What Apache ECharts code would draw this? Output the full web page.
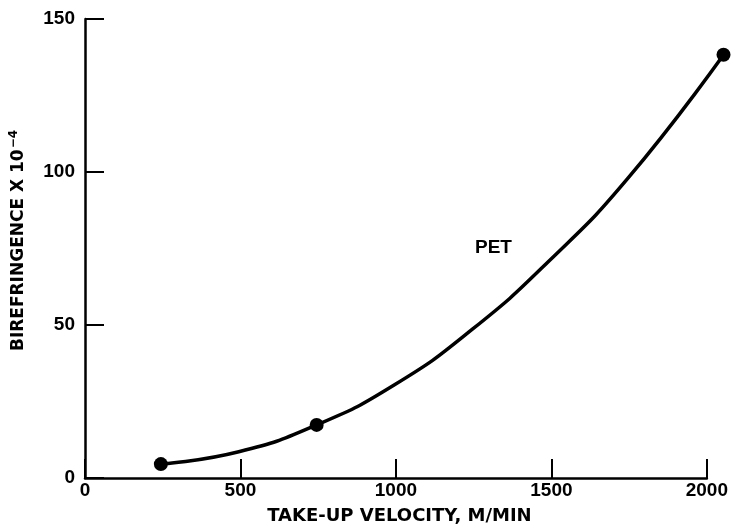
<!DOCTYPE html>
<html>
<head>
<meta charset="utf-8">
<script src="https://cdn.jsdelivr.net/npm/echarts@6/dist/echarts.min.js"></script>
<style>
  html, body { margin: 0; padding: 0; background: #fff; }
  #main { width: 731px; height: 530px; }
</style>
</head>
<body>
<div id="main"></div>
<script>
// data
var xTicks = [0, 500, 1000, 1500, 2000];
var yTicks = [0, 50, 100, 150];
var measured = [[250, 5.8], [750, 18.5], [2056, 138.4]];
var curve = [[250, 5.8], [500, 9.8], [750, 18.5], [1000, 31.5], [1250, 49.5], [1500, 72], [1750, 98.5], [2056, 138.4]];
var curveLabel = 'PET';

var tickFont = '"Liberation Sans", Arial, sans-serif';
var nameFont = '"DejaVu Sans", sans-serif';
var myChart = echarts.init(document.getElementById('main'));

// the visible axes stop at 2000, the last point sits past the end,
// so the data goes on a second, wider (hidden) grid with the same scale
var option = {
    backgroundColor: '#fff',
    animation: false,
    grid: [
        { left: 83, right: 23, top: 19, bottom: 48 },
        { left: 83, right: -2, top: 19, bottom: 48 }
    ],
    xAxis: [{
        type: 'value',
        gridIndex: 0,
        min: xTicks[0],
        max: xTicks[xTicks.length - 1],
        interval: 500,
        name: 'TAKE-UP VELOCITY, M/MIN',
        nameLocation: 'middle',
        nameGap: 29,
        nameTextStyle: { color: '#000', fontSize: 18, fontWeight: 'bold', fontFamily: nameFont, padding: [0, 0, 0, 7] },
        axisLine: { lineStyle: { color: '#000', width: 2.5 } },
        axisTick: { inside: true, length: 19, lineStyle: { color: '#000', width: 2 } },
        axisLabel: { color: '#000', fontSize: 19, fontWeight: 'bold', fontFamily: tickFont, margin: 3,
            formatter: function (v) { return String(v); } },
        splitLine: { show: false }
    }, {
        type: 'value',
        gridIndex: 1,
        min: 0,
        max: 2080,
        show: false
    }],
    yAxis: [{
        type: 'value',
        gridIndex: 0,
        min: yTicks[0],
        max: yTicks[yTicks.length - 1],
        interval: 50,
        name: 'BIREFRINGENCE X 10{sup|−4}',
        nameLocation: 'middle',
        nameRotate: 90,
        nameGap: 56,
        nameTextStyle: {
            color: '#000', fontSize: 17, fontWeight: 'bold', fontFamily: nameFont, padding: [0, 0, 0, 16],
            rich: {
                sup: { color: '#000', fontSize: 12, fontWeight: 'bold', fontFamily: nameFont, padding: [0, 0, 9, 1] }
            }
        },
        axisLine: { lineStyle: { color: '#000', width: 2.5 } },
        axisTick: { inside: true, length: 19, lineStyle: { color: '#000', width: 2 } },
        axisLabel: { color: '#000', fontSize: 19, fontWeight: 'bold', fontFamily: tickFont, margin: 10 },
        splitLine: { show: false }
    }, {
        type: 'value',
        gridIndex: 1,
        min: yTicks[0],
        max: yTicks[yTicks.length - 1],
        show: false
    }],
    series: [
        {
            type: 'line',
            xAxisIndex: 1,
            yAxisIndex: 1,
            data: curve,
            smooth: 0.5,
            showSymbol: false,
            lineStyle: { color: '#000', width: 3.5 }
        },
        {
            type: 'scatter',
            xAxisIndex: 1,
            yAxisIndex: 1,
            data: measured,
            symbolSize: 14,
            itemStyle: { color: '#000', opacity: 1 }
        }
    ],
    graphic: [{
        type: 'text',
        left: 475,
        top: 238,
        style: { text: curveLabel, fill: '#000', font: 'bold 19px ' + tickFont }
    }]
};

myChart.setOption(option);
</script>
</body>
</html>
